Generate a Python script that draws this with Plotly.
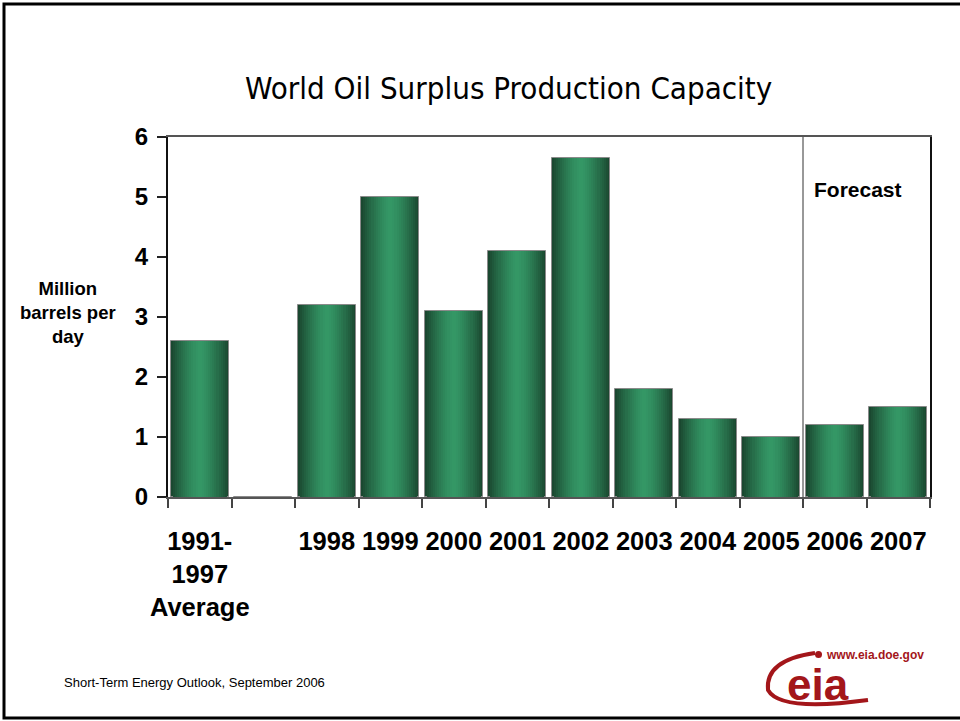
import plotly.graph_objects as go

categories = ["1991-<br>1997<br>Average", " ", "1998", "1999", "2000", "2001",
              "2002", "2003", "2004", "2005", "2006", "2007"]
values = [2.6, 0, 3.2, 5.0, 3.1, 4.1, 5.65, 1.8, 1.3, 1.0, 1.2, 1.5]
y_ticks = [0, 1, 2, 3, 4, 5, 6]

W, H = 960, 721
L, R, T, B = 168, 930, 137, 497


def px(x):
    return (x - L) / (R - L)


def py(y):
    return (B - y) / (B - T)


dark = (25, 68, 45)
light = (52, 152, 102)

fig = go.Figure()
N = 14
bar_w = 0.92
for k in range(N):
    w = bar_w * (1 - k / N)
    d = 1 - (k + 0.5) / N
    f = d ** 1.4
    c = tuple(int(round(light[i] + (dark[i] - light[i]) * f)) for i in range(3))
    fig.add_trace(go.Bar(
        x=categories, y=values, width=w,
        marker=dict(color="rgb(%d,%d,%d)" % c,
                    line=dict(color="#8a8a8a" if k == 0 else "rgba(0,0,0,0)",
                              width=1 if k == 0 else 0)),
        hoverinfo="skip", showlegend=False,
    ))

fig.update_layout(
    width=W, height=H, autosize=False,
    margin=dict(l=L, r=W - R, t=T, b=H - B),
    paper_bgcolor="white", plot_bgcolor="white",
    barmode="overlay", bargap=0,
    showlegend=False,
    font=dict(family="Liberation Sans, Arial, sans-serif", color="black"),
)

fig.update_xaxes(
    type="category", tickson="boundaries", ticks="outside", ticklen=9,
    tickcolor="#444", tickwidth=2, tickangle=0,
    showline=True, linecolor="#555", linewidth=2, mirror=True,
    showgrid=False, zeroline=False,
    tickfont=dict(family="Liberation Sans, Arial, sans-serif", size=25.5, color="black"),
    ticklabelstandoff=20,
    tickvals=categories,
    ticktext=["<b>%s</b>" % c.replace("<br>", "</b><br><b>") if c.strip() else "" for c in categories],
)
fig.update_yaxes(
    range=[0, 6], tickvals=y_ticks, ticktext=["<b>%d</b>" % v for v in y_ticks],
    ticks="outside", ticklen=9, tickcolor="#222", tickwidth=2,
    showline=True, linecolor="#111", linewidth=2, mirror=True,
    showgrid=False, zeroline=False,
    tickfont=dict(family="Liberation Sans, Arial, sans-serif", size=24, color="black"),
    ticklabelstandoff=4,
)

# forecast divider
fig.add_shape(type="line", xref="x", yref="y", x0=9.5, x1=9.5, y0=0, y1=6,
              line=dict(color="#333", width=1))

# slide frame
fig.add_shape(type="rect", xref="paper", yref="paper",
              x0=px(4), x1=px(963), y0=py(718), y1=py(4),
              line=dict(color="black", width=3), layer="above")

annotations = [
    dict(text="World Oil Surplus Production Capacity", x=px(508), y=py(88),
         font=dict(family="DejaVu Sans Condensed, DejaVu Sans, sans-serif", size=31)),
    dict(text="<b>Million<br>barrels per<br>day</b>", x=px(68), y=py(312),
         font=dict(size=18.5)),
    dict(text="<b>Forecast</b>", x=px(858), y=py(189), font=dict(size=21)),
    dict(text="Short-Term Energy Outlook, September 2006", x=px(62), y=py(682),
         xanchor="left", font=dict(size=13)),
    dict(text="<b>www.eia.doe.gov</b>", x=px(824), y=py(655), xanchor="left",
         font=dict(size=12, color="#a3161a")),
    dict(text="<b>eia</b>", x=px(818), y=py(684),
         font=dict(size=44, color="#a3161a", family="Liberation Sans, Arial, sans-serif")),
]
for a in annotations:
    base = dict(xref="paper", yref="paper", showarrow=False, xanchor="center", yanchor="middle")
    base.update(a)
    fig.add_annotation(**base)

# logo swoosh
fig.add_shape(type="path", xref="paper", yref="paper",
              path="M %f %f Q %f %f %f %f Q %f %f %f %f" % (
                  px(815), py(653),
                  px(765), py(660), px(768), py(690),
                  px(780), py(712), px(868), py(700)),
              line=dict(color="#a3161a", width=4))
fig.add_shape(type="circle", xref="paper", yref="paper",
              x0=px(815), x1=px(822), y0=py(658), y1=py(651),
              fillcolor="#a3161a", line=dict(width=0))

fig.write_html("out.html")
